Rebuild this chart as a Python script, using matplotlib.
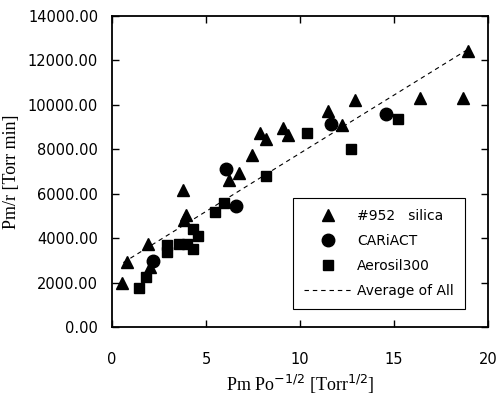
import matplotlib
matplotlib.use("Agg")
import matplotlib.pyplot as plt
import numpy as np

# #952 silica
silica_x = [0.55, 0.81, 1.93, 2.02, 3.76, 3.85, 3.95, 6.22, 6.77, 7.46, 7.87, 8.18,
            9.10, 9.35, 11.5, 12.25, 12.9, 16.4, 18.65, 18.95]
silica_y = [1960, 2900, 3710, 2680, 6180, 4800, 5050, 6600, 6900, 7750, 8740, 8430,
            8950, 8620, 9700, 9100, 10200, 10300, 10300, 12400]

# CARiACT
cariact_x = [2.16, 6.06, 6.60, 11.63, 14.57]
cariact_y = [2980, 7090, 5430, 9110, 9560]

# Aerosil300
aerosil_x = [1.45, 1.81, 2.91, 2.94, 3.56, 4.00, 4.33, 4.33, 4.59, 5.48, 5.97,
             8.18, 10.39, 12.70, 15.20]
aerosil_y = [1770, 2260, 3350, 3680, 3730, 3730, 4400, 3500, 4090, 5180, 5580,
             6780, 8740, 7990, 9370]

# Average of all (linear)
fit_slope = 523.0
fit_intercept = 2580.0
fit_xrange = [0.6, 18.9]

x_ticks = [0, 5, 10, 15, 20]
y_ticks = [0, 2000, 4000, 6000, 8000, 10000, 12000, 14000]

fig = plt.figure(figsize=(4.98, 3.98), dpi=100)
ax = fig.add_axes([0.2249, 0.1784, 0.7551, 0.7826])

ax.plot(silica_x, silica_y, "k^", markersize=9, linestyle="none", label="#952   silica")
ax.plot(cariact_x, cariact_y, "ko", markersize=9, linestyle="none", label="CARiACT")
ax.plot(aerosil_x, aerosil_y, "ks", markersize=7.5, linestyle="none", label="Aerosil300")

fx = np.array(fit_xrange)
ax.plot(fx, fit_slope * fx + fit_intercept, color="black", linestyle=(0, (4, 3.5)),
        linewidth=0.8, label="Average of All")

ax.set_xlim(0, 20)
ax.set_ylim(0, 14000)
ax.set_xticks(x_ticks)
ax.set_yticks(y_ticks)
ax.set_xticklabels([str(t) for t in x_ticks], fontsize=10.5)
ax.set_yticklabels([f"{t:.2f}" for t in y_ticks], fontsize=10.5)
ax.tick_params(direction="in", top=True, right=True, length=5, width=1)
ax.tick_params(axis="x", pad=18)
ax.tick_params(axis="y", pad=10)
for s in ax.spines.values():
    s.set_linewidth(1.3)

ax.set_xlabel(r"Pm Po$^{-1/2}$ [Torr$^{1/2}$]", fontsize=13, family="Liberation Serif")
ax.set_ylabel("Pm/r [Torr min]", fontsize=13, family="Liberation Serif")
ax.yaxis.set_label_coords(-0.245, 0.5)

leg = ax.legend(loc="lower right", bbox_to_anchor=(0.939, 0.057), fontsize=10,
                fancybox=False, framealpha=1, edgecolor="black", handlelength=3.4,
                handletextpad=0.4, labelspacing=0.8, borderpad=0.8, borderaxespad=0)
leg.get_frame().set_linewidth(0.8)

plt.savefig("out.png", dpi=100)
plt.close()
